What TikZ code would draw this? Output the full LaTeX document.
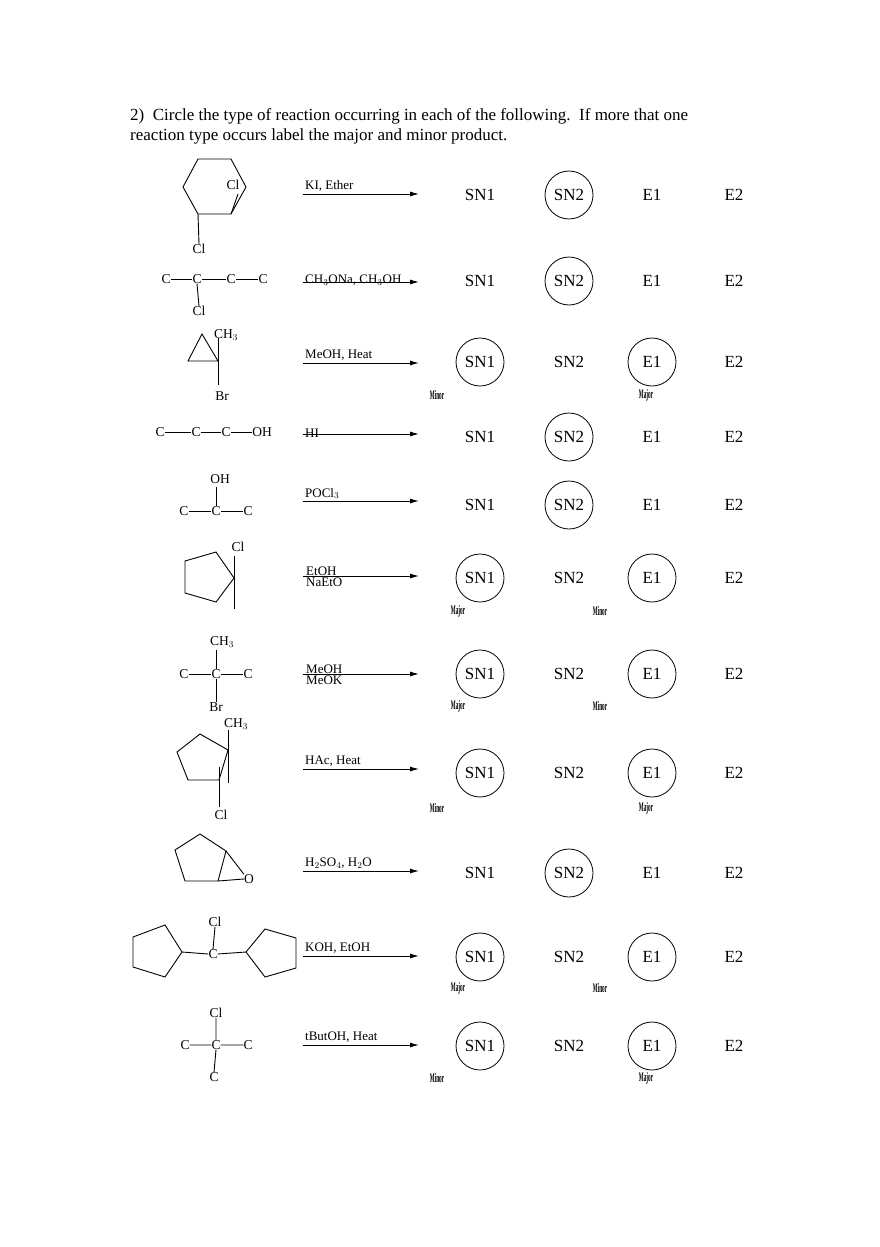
\documentclass[tikz,border=0pt]{standalone}
\usepackage{fontspec}
\setmainfont{Liberation Serif}
\usetikzlibrary{arrows.meta}
\tikzset{
 lbl/.style={inner sep=0pt,font=\fontsize{17}{18}\selectfont},
 at9/.style={inner sep=0pt,font=\fontsize{13.5}{14}\selectfont},
 reag/.style={inner sep=0pt,anchor=south west,font=\fontsize{13}{14}\selectfont},
 rxn/.style={-{Latex[length=9pt,width=5pt]},line width=1pt},
 ring/.style={circle,draw,line width=0.8pt,minimum size=48pt,inner sep=0pt},
 bd/.style={line width=0.9pt},
 tiny/.style={inner sep=0pt,font=\fontsize{13}{13}\selectfont\bfseries}
}
\begin{document}
\begin{tikzpicture}[x=1pt,y=-1pt]
\useasboundingbox (0,0) rectangle (880,1247);
\node[anchor=west,inner sep=0pt,font=\fontsize{17}{18}\selectfont] (h1) at (130,116) {2)\ \ Circle the type of reaction occurring in each of the following.\ \ If more that one};
\node[anchor=west,inner sep=0pt,font=\fontsize{17}{18}\selectfont] (h2) at (130,136) {reaction type occurs label the major and minor product.};
% answer columns
\foreach \y/\a/\b/\c/\d [count=\i] in {195/0/1/0/0,281/0/1/0/0,362/1/0/1/0,437/0/1/0/0,505/0/1/0/0,578/1/0/1/0,674/1/0/1/0,773/1/0/1/0,873/0/1/0/0,957/1/0/1/0,1046/1/0/1/0}{
 \node[lbl] (s1\i) at (480,\y) {SN1};
 \node[lbl] (s2\i) at (569,\y) {SN2};
 \node[lbl] (e1\i) at (652,\y) {E1};
 \node[lbl] (e2\i) at (734,\y) {E2};
 \ifnum\a=1 \node[ring] (cs1\i) at (480,\y) {};\fi
 \ifnum\b=1 \node[ring] (cs2\i) at (569,\y) {};\fi
 \ifnum\c=1 \node[ring] (ce1\i) at (652,\y) {};\fi
}
% arrows
\foreach \y/\t/\d [count=\i] in {194/{KI, Ether}/2,282/{CH$_3$ONa, CH$_3$OH}/-4,363/{MeOH, Heat}/2,434/{HI}/-4,501/{POCl$_3$}/2,576/{}/2,674/{}/2,769/{HAc, Heat}/2,871/{H$_2$SO$_4$, H$_2$O}/2,956/{KOH, EtOH}/2,1045/{tButOH, Heat}/2}{
 \coordinate (a\i) at (303,\y); \coordinate (b\i) at (419,\y);
 \draw[rxn] (a\i) -- (b\i);
 \node[reag] (r\i) at (305,\y-\d) {\t};
}
\node[reag,align=left,font=\fontsize{13}{11}\selectfont] (r6x) at (306,587) {EtOH\\NaEtO};
\node[reag,align=left,font=\fontsize{13}{11}\selectfont] (r7x) at (306,685) {MeOH\\MeOK};
% major/minor labels
\foreach \x/\y/\t [count=\i] in {437/395/Minor,646/395/Major,458/611/Major,600/611/Minor,458/706/Major,600/706/Minor,437/808/Minor,646/808/Major,458/988/Major,600/988/Minor,437/1078/Minor,646/1078/Major}{
 \node[tiny] (m\i) at (\x,\y) {\scalebox{0.4}[1]{\t}};
}
% 1 cyclohexane
\draw[bd] (198,159)--(231,159)--(246,187)--(231,214)--(198,214)--(183,187)--cycle;
\node[at9] (c1a) at (233,185) {Cl};
\draw[bd] (231,214)--(238,194);
\node[at9] (c1b) at (199,249) {Cl};
\draw[bd] (198,214)--(c1b.north);
% 2
\foreach \x [count=\i] in {166,197,231,263}{\node[at9] (m2c\i) at (\x,279) {C};}
\draw[bd] (m2c1.east)--(m2c2.west) (m2c2.east)--(m2c3.west) (m2c3.east)--(m2c4.west);
\node[at9] (m2cl) at (199,311) {Cl};
\draw[bd] (m2c2.south)--(m2cl.north);
% 3 cyclopropane
\draw[bd] (188,361)--(202,334)--(218,361)--cycle;
\node[at9,anchor=west] (m3me) at (214,335) {CH$_3$};
\node[at9] (m3br) at (222,396) {Br};
\draw[bd] (218,338)--(218,385);
% 4
\foreach \x [count=\i] in {160,196,226}{\node[at9] (m4c\i) at (\x,432) {C};}
\node[at9] (m4oh) at (262,432) {OH};
\draw[bd] (m4c1.east)--(m4c2.west) (m4c2.east)--(m4c3.west) (m4c3.east)--(m4oh.west);
% 5
\foreach \x [count=\i] in {184,216,248}{\node[at9] (m5c\i) at (\x,511) {C};}
\node[at9] (m5oh) at (220,479) {OH};
\draw[bd] (m5c1.east)--(m5c2.west) (m5c2.east)--(m5c3.west) (216,487)--(m5c2.north);
% 6
\draw[bd] (185,561)--(216,552)--(234,578)--(216,602)--(185,593)--cycle;
\node[at9] (m6cl) at (238,547) {Cl};
\draw[bd] (234,556)--(234,609);
% 7
\foreach \x [count=\i] in {184,216,248}{\node[at9] (m7c\i) at (\x,674) {C};}
\node[at9] (m7me) at (222,642) {CH$_3$};
\node[at9] (m7br) at (216,707) {Br};
\draw[bd] (m7c1.east)--(m7c2.west) (m7c2.east)--(m7c3.west) (216,650)--(m7c2.north) (m7c2.south)--(m7br.north);
% 8
\draw[bd] (177,752)--(200,734)--(228,750)--(219,780)--(188,780)--cycle;
\node[at9,anchor=west] (m8me) at (224,724) {CH$_3$};
\draw[bd] (228,730)--(228,783);
\draw[bd] (219,767)--(219,807);
\node[at9] (m8cl) at (221,815) {Cl};
% 9 epoxide
\draw[bd] (175,850)--(200,834)--(226,851)--(218,881)--(185,881)--cycle;
\node[at9] (m9o) at (249,879) {O};
\draw[bd] (226,851)--(m9o.north west) (218,881)--(m9o.west);
% 10
\draw[bd] (133,937)--(165,925)--(182,952)--(165,977)--(133,967)--cycle;
\node[at9] (m10c) at (213,954) {C};
\node[at9] (m10cl) at (215,922) {Cl};
\draw[bd] (182,952)--(m10c.west) (m10cl.south)--(m10c.north) (m10c.east)--(246,952);
\draw[bd] (246,952)--(265,929)--(296,938)--(296,968)--(265,977)--cycle;
% 11
\foreach \x [count=\i] in {185,216,248}{\node[at9] (m11c\i) at (\x,1045) {C};}
\node[at9] (m11cl) at (216,1013) {Cl};
\node[at9] (m11cb) at (214,1077) {C};
\draw[bd] (m11c1.east)--(m11c2.west) (m11c2.east)--(m11c3.west) (m11cl.south)--(m11c2.north) (m11c2.south)--(m11cb.north);
\end{tikzpicture}
\end{document}
